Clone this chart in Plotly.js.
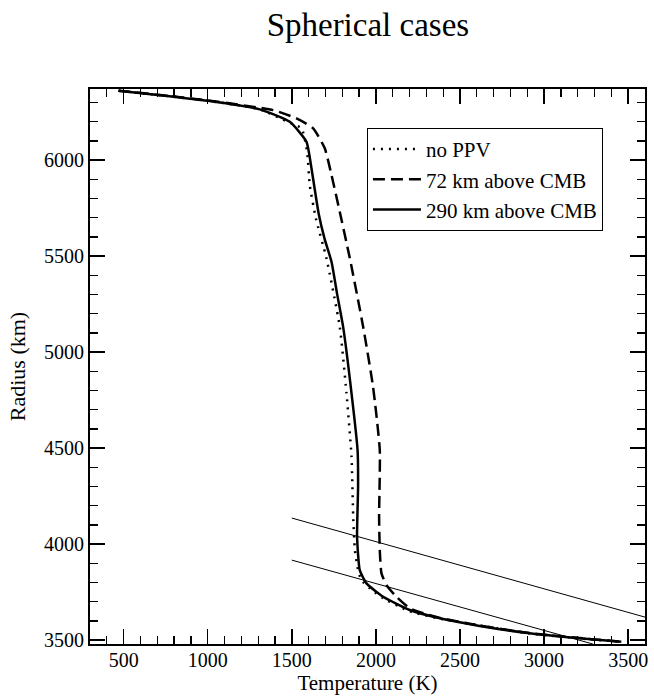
<!DOCTYPE html>
<html>
<head>
<meta charset="utf-8">
<script src="https://cdn.plot.ly/plotly-3.0.1.min.js"></script>
<style>html,body{margin:0;padding:0;background:#fff;}#chart{width:654px;height:696px;}</style>
</head>
<body>
<div id="chart"></div>
<script>
// Series: temperature (K) vs radius (km)
const noPPV_T = [470, 716, 1013, 1310, 1475, 1558, 1591, 1607, 1643, 1706, 1785, 1825, 1855, 1865, 1875, 1894, 1914, 1964, 2043, 2142, 2201, 2380, 2617, 2914, 3211, 3459];
const noPPV_R = [6362, 6339, 6308, 6265, 6200, 6166, 6044, 5868, 5697, 5489, 5133, 4786, 4456, 4143, 3970, 3865, 3813, 3770, 3718, 3674, 3650, 3612, 3577, 3535, 3509, 3492];

const km72_T = [470, 716, 1013, 1389, 1528, 1627, 1696, 1736, 1785, 1845, 1924, 1983, 2023, 2019, 2023, 2033, 2063, 2122, 2201, 2281, 2380, 2617, 2914, 3211, 3459];
const km72_R = [6362, 6340, 6310, 6261, 6218, 6166, 6062, 5923, 5732, 5489, 5133, 4820, 4490, 4143, 3970, 3848, 3787, 3726, 3666, 3640, 3616, 3576, 3537, 3511, 3492];

const km290_T = [470, 716, 1013, 1310, 1488, 1587, 1617, 1636, 1660, 1695, 1736, 1770, 1805, 1855, 1891, 1894, 1888, 1904, 1944, 2043, 2201, 2380, 2617, 2914, 3211, 3459];
const km290_R = [6362, 6339, 6308, 6265, 6200, 6096, 5957, 5850, 5720, 5590, 5471, 5300, 5133, 4786, 4490, 4300, 4039, 3865, 3796, 3726, 3657, 3614, 3574, 3536, 3510, 3492];

// Thin reference lines (phase boundaries)
const upperLine_T = [1500, 3600];
const upperLine_R = [4136, 3620];
const lowerLine_T = [1500, 3290];
const lowerLine_R = [3917, 3480];

const seriesNames = ["no PPV", "72 km above CMB", "290 km above CMB"];
const xTicks = [500, 1000, 1500, 2000, 2500, 3000, 3500];
const yTicks = [3500, 4000, 4500, 5000, 5500, 6000];

const FONT = "'Liberation Serif', 'DejaVu Serif', serif";

const traces = [
  {x: noPPV_T, y: noPPV_R, name: seriesNames[0], mode: "lines", line: {color: "#000", width: 2.5, dash: "2px,6px", shape: "spline", smoothing: 0.5}},
  {x: km72_T, y: km72_R, name: seriesNames[1], mode: "lines", line: {color: "#000", width: 2.5, dash: "12px,6px", shape: "spline", smoothing: 0.5}},
  {x: km290_T, y: km290_R, name: seriesNames[2], mode: "lines", line: {color: "#000", width: 2.5, shape: "spline", smoothing: 0.5}},
  {x: upperLine_T, y: upperLine_R, mode: "lines", showlegend: false, line: {color: "#000", width: 1}},
  {x: lowerLine_T, y: lowerLine_R, mode: "lines", showlegend: false, line: {color: "#000", width: 1}}
];

const axisCommon = {
  showgrid: false, zeroline: false, showline: true, linecolor: "#000", linewidth: 2,
  mirror: "allticks", ticks: "inside", ticklen: 15, tickwidth: 1.5, tickcolor: "#000",
  tickfont: {family: FONT, size: 20, color: "#000"},
  minor: {dtick: 100, ticks: "inside", ticklen: 8, tickwidth: 1.2, tickcolor: "#000", showgrid: false}
};

const layout = {
  width: 654, height: 696,
  margin: {l: 90, r: 9, t: 89, b: 52},
  paper_bgcolor: "#fff", plot_bgcolor: "#fff",
  font: {family: FONT, color: "#000"},
  title: {text: "Spherical cases", font: {family: FONT, size: 33, color: "#000"}, x: 0.5625, xanchor: "center", y: 0.965, yanchor: "middle"},
  showlegend: true,
  legend: {x: 0.499, y: 0.93, xanchor: "left", yanchor: "top", bordercolor: "#000", borderwidth: 1, bgcolor: "#fff",
           font: {family: FONT, size: 21, color: "#000"}, tracegroupgap: 0, itemwidth: 48},
  xaxis: Object.assign({}, axisCommon, {
    range: [300, 3600], tickvals: xTicks, ticktext: xTicks.map(String), ticklabelstandoff: -3,
    title: {text: "Temperature (K)", font: {family: FONT, size: 21, color: "#000"}, standoff: 2}
  }),
  yaxis: Object.assign({}, axisCommon, {
    range: [3480, 6371], tickvals: yTicks, ticktext: yTicks.map(String),
    title: {text: "Radius (km)", font: {family: FONT, size: 22, color: "#000"}, standoff: 12}
  })
};

Plotly.newPlot("chart", traces, layout, {displayModeBar: false, staticPlot: true});
</script>
</body>
</html>
